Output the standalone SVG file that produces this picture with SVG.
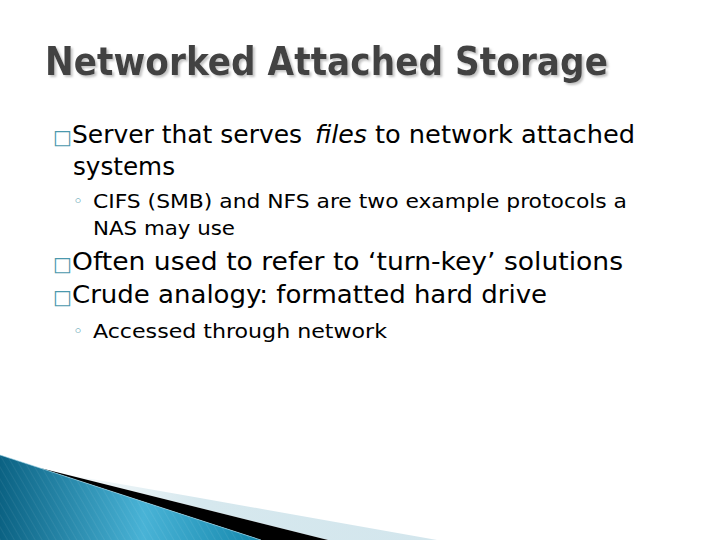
<svg xmlns="http://www.w3.org/2000/svg" width="720" height="540" viewBox="0 0 720 540">
<defs>
<style>
.title{font-family:"DejaVu Sans Condensed","DejaVu Sans",sans-serif;font-weight:bold;font-size:39px;fill:#434343}
.b1{font-family:"DejaVu Sans Condensed","DejaVu Sans",sans-serif;font-size:24px;fill:#000}
.b2{font-family:"DejaVu Sans Condensed","DejaVu Sans",sans-serif;font-size:20px;fill:#000}
.box{font-family:"DejaVu Sans",sans-serif;font-size:20px;fill:#4a98ad}
.dot{font-family:"DejaVu Sans",sans-serif;font-size:17px;fill:#4a98ad}
</style>
<filter id="shadow" x="-5%" y="-20%" width="110%" height="140%">
<feDropShadow dx="2" dy="2" stdDeviation="0.8" flood-color="#bdbdbd" flood-opacity="0.9"/>
</filter>
<linearGradient id="blue" x1="0" y1="0" x2="1" y2="0">
<stop offset="0" stop-color="#0b6283"/>
<stop offset="0.55" stop-color="#49b3d6"/>
<stop offset="1" stop-color="#1588ad"/>
</linearGradient>
<linearGradient id="pale" x1="0" y1="0" x2="1" y2="0">
<stop offset="0" stop-color="#ffffff"/>
<stop offset="0.4" stop-color="#d6e8ee"/>
<stop offset="1" stop-color="#d3e6ed"/>
</linearGradient>
<pattern id="hatch" width="6" height="6" patternUnits="userSpaceOnUse" patternTransform="rotate(-30)">
<line x1="0" y1="0" x2="0" y2="6" stroke="#ffffff" stroke-opacity="0.12" stroke-width="1"/>
</pattern>
</defs>
<rect width="720" height="540" fill="#ffffff"/>
<g id="decoration">
<polygon points="63,474 200,498 437,540 328,540 40,468" fill="url(#pale)"/>
<polygon points="40,468 328,540 261,540" fill="#000000"/>
<polygon points="0,455 261,540 0,540" fill="url(#blue)"/>
<polygon points="0,455 261,540 0,540" fill="url(#hatch)"/>
<line x1="0" y1="455" x2="261" y2="540" stroke="#9fd4e6" stroke-width="1" stroke-opacity="0.6"/>
</g>
<g id="title">
<text class="title" x="45" y="75" filter="url(#shadow)" textLength="563" lengthAdjust="spacingAndGlyphs">Networked Attached Storage</text>
</g>
<g id="bullet-server">
<text class="box" x="53" y="144">□</text>
<text class="b1" x="72" y="143" textLength="230" lengthAdjust="spacingAndGlyphs">Server that serves</text>
<text class="b1" x="315" y="143" font-style="italic" textLength="52" lengthAdjust="spacingAndGlyphs">files</text>
<text class="b1" x="375" y="143" textLength="260" lengthAdjust="spacingAndGlyphs">to network attached</text>
<text class="b1" x="73" y="175" textLength="102" lengthAdjust="spacingAndGlyphs">systems</text>
</g>
<g id="sub-cifs">
<text class="dot" x="73" y="207">◦</text>
<text class="b2" x="93" y="208" textLength="534" lengthAdjust="spacingAndGlyphs">CIFS (SMB) and NFS are two example protocols a</text>
<text class="b2" x="93" y="235" textLength="142" lengthAdjust="spacingAndGlyphs">NAS may use</text>
</g>
<g id="bullet-often">
<text class="box" x="53" y="271">□</text>
<text class="b1" x="72" y="270" textLength="551" lengthAdjust="spacingAndGlyphs">Often used to refer to ‘turn-key’ solutions</text>
</g>
<g id="bullet-crude">
<text class="box" x="53" y="304">□</text>
<text class="b1" x="72" y="303" textLength="475" lengthAdjust="spacingAndGlyphs">Crude analogy: formatted hard drive</text>
</g>
<g id="sub-accessed">
<text class="dot" x="73" y="337">◦</text>
<text class="b2" x="93" y="338" textLength="294" lengthAdjust="spacingAndGlyphs">Accessed through network</text>
</g>
</svg>
